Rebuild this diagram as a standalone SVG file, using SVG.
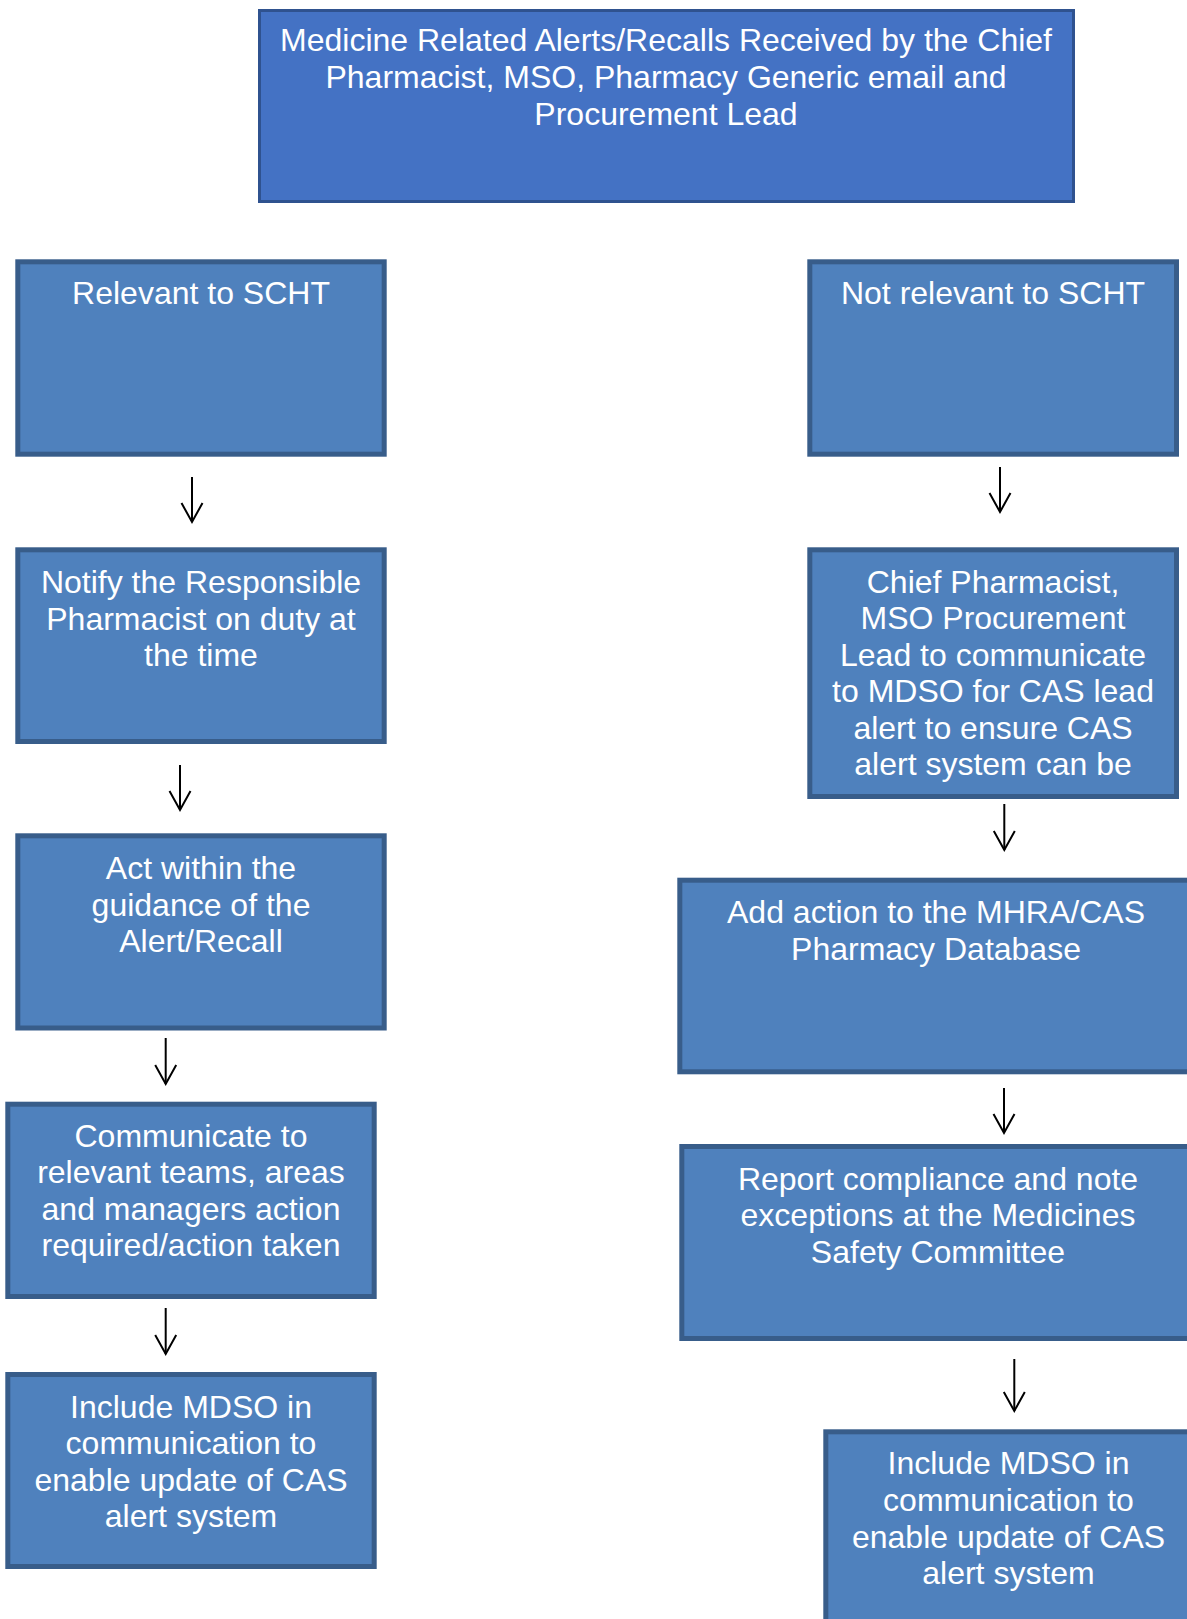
<svg xmlns="http://www.w3.org/2000/svg" width="1187" height="1619" viewBox="0 0 1187 1619">
<style>
.box{fill:#4F81BD;stroke:#385D8A;stroke-width:5}
.top{fill:#4472C4;stroke:#2F528F;stroke-width:3}
.t{font-family:"Liberation Sans",Arial,sans-serif;font-size:32px;fill:#FFFFFF;text-anchor:middle}
.c{fill:none;stroke:#000;stroke-width:2}
</style>
<defs>
<marker id="ah" markerUnits="userSpaceOnUse" viewBox="0 0 24 24" markerWidth="24" markerHeight="24" refX="21" refY="12" orient="auto">
<path d="M2,1.5 L21,12 L2,22.5" fill="none" stroke="#000" stroke-width="2"/>
</marker>
</defs>
<rect width="1187" height="1619" fill="#FFFFFF"/>
<g id="n-top">
<rect class="top" x="259.5" y="10.5" width="814" height="191"/>
<text class="t" x="666" y="51">Medicine Related Alerts/Recalls Received by the Chief</text>
<text class="t" x="666" y="88">Pharmacist, MSO, Pharmacy Generic email and</text>
<text class="t" x="666" y="124.5">Procurement Lead</text>
</g>
<g id="n-relevant">
<rect class="box" x="17.8" y="261.8" width="366.4" height="192.4"/>
<text class="t" x="201" y="304">Relevant to SCHT</text>
</g>
<g id="n-notrelevant">
<rect class="box" x="809.8" y="261.8" width="366.7" height="192.4"/>
<text class="t" x="993" y="304">Not relevant to SCHT</text>
</g>
<g id="n-notify">
<rect class="box" x="17.8" y="549.8" width="366.4" height="191.7"/>
<text class="t" x="201" y="593.3">Notify the Responsible</text>
<text class="t" x="201" y="629.8">Pharmacist on duty at</text>
<text class="t" x="201" y="666.3">the time</text>
</g>
<g id="n-chief">
<rect class="box" x="809.8" y="549.8" width="366.7" height="246.7"/>
<text class="t" x="993" y="592.7">Chief Pharmacist,</text>
<text class="t" x="993" y="629.2">MSO Procurement</text>
<text class="t" x="993" y="665.7">Lead to communicate</text>
<text class="t" x="993" y="702.2">to MDSO for CAS lead</text>
<text class="t" x="993" y="738.7">alert to ensure CAS</text>
<text class="t" x="993" y="775.2">alert system can be</text>
</g>
<g id="n-act">
<rect class="box" x="17.8" y="835.8" width="366.4" height="192.2"/>
<text class="t" x="201" y="879">Act within the</text>
<text class="t" x="201" y="915.5">guidance of the</text>
<text class="t" x="201" y="952">Alert/Recall</text>
</g>
<g id="n-add">
<rect class="box" x="679.8" y="880.2" width="512.4" height="191.6"/>
<text class="t" x="936" y="922.7">Add action to the MHRA/CAS</text>
<text class="t" x="936" y="959.7">Pharmacy Database</text>
</g>
<g id="n-communicate">
<rect class="box" x="7.8" y="1104.2" width="366.4" height="192.3"/>
<text class="t" x="191" y="1146.7">Communicate to</text>
<text class="t" x="191" y="1183.2">relevant teams, areas</text>
<text class="t" x="191" y="1219.7">and managers action</text>
<text class="t" x="191" y="1256.2">required/action taken</text>
</g>
<g id="n-report">
<rect class="box" x="681.8" y="1146.5" width="512.4" height="192"/>
<text class="t" x="938" y="1189.5">Report compliance and note</text>
<text class="t" x="938" y="1226">exceptions at the Medicines</text>
<text class="t" x="938" y="1262.5">Safety Committee</text>
</g>
<g id="n-include-left">
<rect class="box" x="7.8" y="1374.5" width="366.4" height="192"/>
<text class="t" x="191" y="1417.5">Include MDSO in</text>
<text class="t" x="191" y="1454">communication to</text>
<text class="t" x="191" y="1490.5">enable update of CAS</text>
<text class="t" x="191" y="1527">alert system</text>
</g>
<g id="n-include-right">
<rect class="box" x="825.8" y="1431.8" width="366.4" height="192"/>
<text class="t" x="1008.5" y="1474">Include MDSO in</text>
<text class="t" x="1008.5" y="1510.8">communication to</text>
<text class="t" x="1008.5" y="1547.6">enable update of CAS</text>
<text class="t" x="1008.5" y="1584.4">alert system</text>
</g>
<g id="connectors">
<line class="c" x1="192" y1="477" x2="192" y2="522" marker-end="url(#ah)"/>
<line class="c" x1="1000" y1="467" x2="1000" y2="512" marker-end="url(#ah)"/>
<line class="c" x1="180" y1="765" x2="180" y2="810" marker-end="url(#ah)"/>
<line class="c" x1="1004.3" y1="804" x2="1004.3" y2="850" marker-end="url(#ah)"/>
<line class="c" x1="165.7" y1="1038" x2="165.7" y2="1084" marker-end="url(#ah)"/>
<line class="c" x1="1004" y1="1088" x2="1004" y2="1133" marker-end="url(#ah)"/>
<line class="c" x1="165.7" y1="1308" x2="165.7" y2="1354" marker-end="url(#ah)"/>
<line class="c" x1="1014.3" y1="1359" x2="1014.3" y2="1411" marker-end="url(#ah)"/>
</g>
</svg>
